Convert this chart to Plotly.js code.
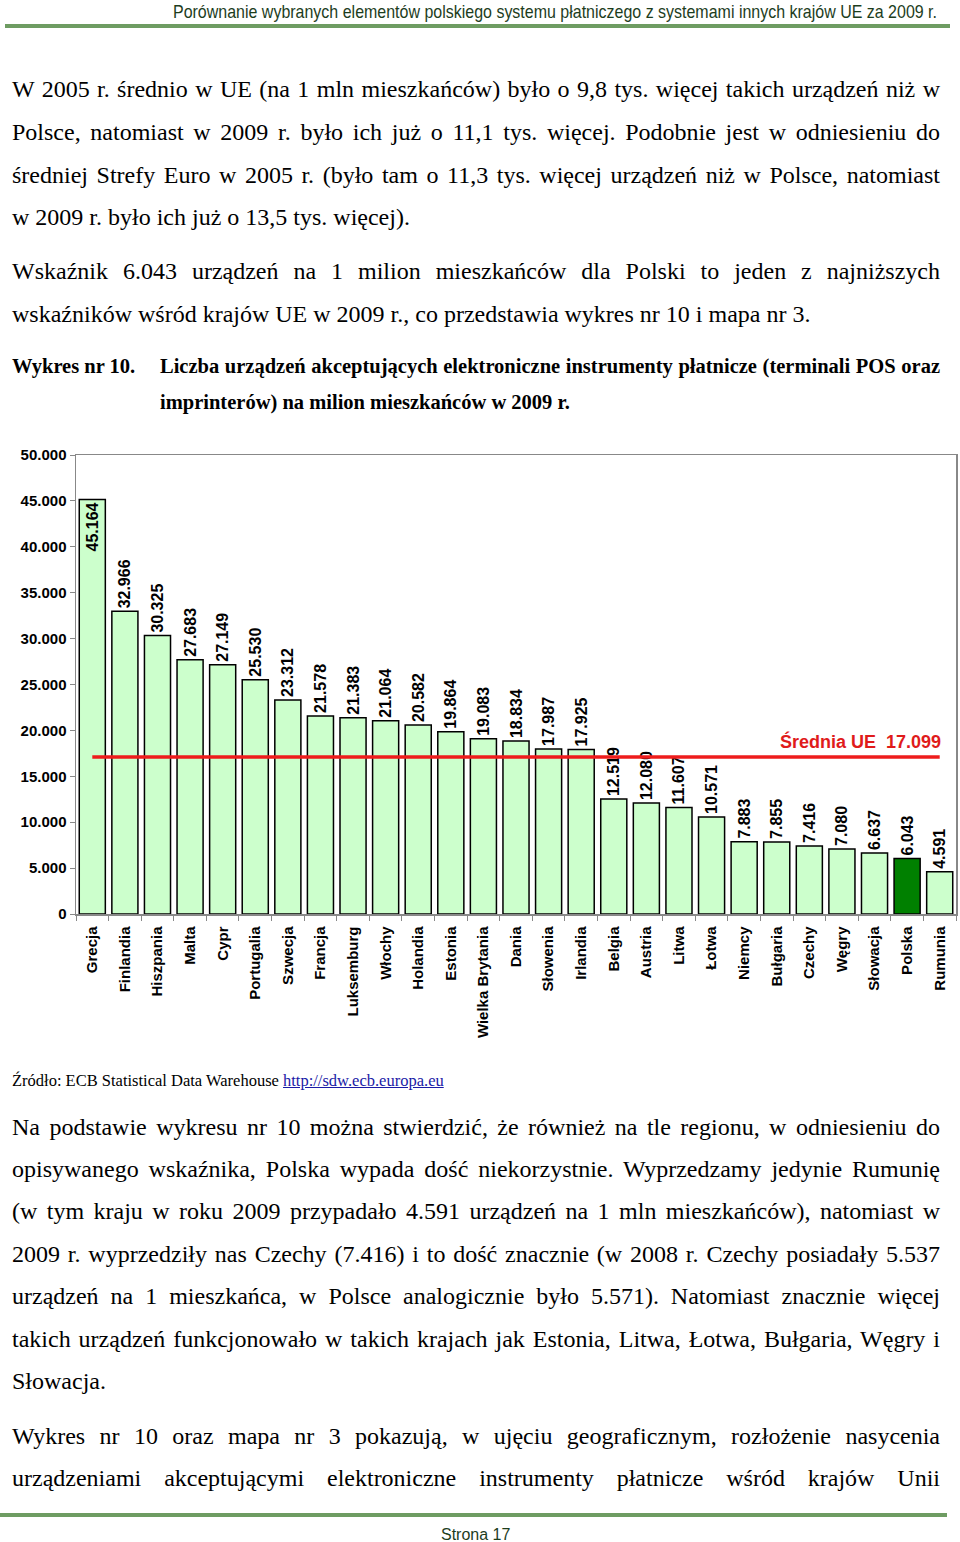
<!DOCTYPE html>
<html>
<head>
<meta charset="utf-8">
<script src="https://cdn.plot.ly/plotly-3.0.1.min.js"></script>
<style>
  html, body { margin:0; padding:0; background:#fff; }
  body { width:960px; height:1542px; position:relative; overflow:hidden; }
  .ln { position:absolute; font-family:"Liberation Serif","Times New Roman",serif; font-size:24px; color:#000; height:42px; line-height:42px; white-space:normal; }
  .j { text-align:justify; text-align-last:justify; }
  .cap { font-weight:bold; font-size:20.5px; }
  .src { font-size:16.5px; }
  .src a { color:#1a1aa6; text-decoration:underline; }
  #hdr { position:absolute; top:0px; left:0; font-family:"Liberation Sans Narrow","Liberation Sans",Arial,sans-serif; font-size:19px; color:#1d3d1d; white-space:nowrap; transform-origin:0 0; line-height:24px; }
  .rule { position:absolute; height:4px; background:#6e9c62; }
  #ftr { position:absolute; top:1525px; left:441px; font-family:"Liberation Sans",Arial,sans-serif; font-size:16px; color:#1d3d1d; line-height:20px; }
  #chart { position:absolute; left:0; top:440px; width:960px; height:620px; }
</style>
</head>
<body>
<div id="hdr">Porównanie wybranych elementów polskiego systemu płatniczego z systemami innych krajów UE za 2009 r.</div>
<div class="rule" style="top:24px; left:5px; width:945px;"></div>

<div id="text"></div>
<div id="chart"></div>

<div class="rule" style="top:1513px; left:0px; width:947px;"></div>
<div id="ftr">Strona 17</div>

<script>
// ---- chart data ----
var countries = ['Grecja','Finlandia','Hiszpania','Malta','Cypr','Portugalia','Szwecja','Francja','Luksemburg','Włochy','Holandia','Estonia','Wielka Brytania','Dania','Słowenia','Irlandia','Belgia','Austria','Litwa','Łotwa','Niemcy','Bułgaria','Czechy','Węgry','Słowacja','Polska','Rumunia'];
var devicesPerMillion = [45164, 32966, 30325, 27683, 27149, 25530, 23312, 21578, 21383, 21064, 20582, 19864, 19083, 18834, 17987, 17925, 12519, 12080, 11607, 10571, 7883, 7855, 7416, 7080, 6637, 6043, 4591];
var euAverage = 17099;
var highlightCountry = 'Polska';
var yTicks = [0, 5000, 10000, 15000, 20000, 25000, 30000, 35000, 40000, 45000, 50000];

// ---- page text lines ----
var lines = [
  {y:89,  x:12, w:928, j:1, t:'W 2005 r. średnio w UE (na 1 mln mieszkańców) było o 9,8 tys. więcej takich urządzeń niż w'},
  {y:132, x:12, w:928, j:1, t:'Polsce, natomiast w 2009 r. było ich już o 11,1 tys. więcej. Podobnie jest w odniesieniu do'},
  {y:175, x:12, w:928, j:1, t:'średniej Strefy Euro w 2005 r. (było tam o 11,3 tys. więcej urządzeń niż w Polsce, natomiast'},
  {y:217, x:12, w:928, j:0, t:'w 2009 r. było ich już o 13,5 tys. więcej).'},
  {y:271, x:12, w:928, j:1, t:'Wskaźnik 6.043 urządzeń na 1 milion mieszkańców dla Polski to jeden z najniższych'},
  {y:314, x:12, w:928, j:0, t:'wskaźników wśród krajów UE w 2009 r., co przedstawia wykres nr 10 i mapa nr 3.'},
  {y:366, x:12, w:140, j:0, c:'cap', t:'Wykres nr 10.'},
  {y:366, x:160, w:780, j:1, c:'cap', t:'Liczba urządzeń akceptujących elektroniczne instrumenty płatnicze (terminali POS oraz'},
  {y:402, x:160, w:780, j:0, c:'cap', t:'imprinterów) na milion mieszkańców w 2009 r.'},
  {y:1081, x:12, w:928, j:0, c:'src', h:'Źródło: ECB Statistical Data Warehouse <a>http://sdw.ecb.europa.eu</a>'},
  {y:1127, x:12, w:928, j:1, t:'Na podstawie wykresu nr 10 można stwierdzić, że również na tle regionu, w odniesieniu do'},
  {y:1169, x:12, w:928, j:1, t:'opisywanego wskaźnika, Polska wypada dość niekorzystnie. Wyprzedzamy jedynie Rumunię'},
  {y:1211, x:12, w:928, j:1, t:'(w tym kraju w roku 2009 przypadało 4.591 urządzeń na 1 mln mieszkańców), natomiast w'},
  {y:1254, x:12, w:928, j:1, t:'2009 r. wyprzedziły nas Czechy (7.416) i to dość znacznie (w 2008 r. Czechy posiadały 5.537'},
  {y:1296, x:12, w:928, j:1, t:'urządzeń na 1 mieszkańca, w Polsce analogicznie było 5.571). Natomiast znacznie więcej'},
  {y:1339, x:12, w:928, j:1, t:'takich urządzeń funkcjonowało w takich krajach jak Estonia, Litwa, Łotwa, Bułgaria, Węgry i'},
  {y:1381, x:12, w:928, j:0, t:'Słowacja.'},
  {y:1436, x:12, w:928, j:1, t:'Wykres nr 10 oraz mapa nr 3 pokazują, w ujęciu geograficznym, rozłożenie nasycenia'},
  {y:1478, x:12, w:928, j:1, t:'urządzeniami akceptującymi elektroniczne instrumenty płatnicze wśród krajów Unii'}
];
var holder = document.getElementById('text');
lines.forEach(function(L){
  var d = document.createElement('div');
  d.className = 'ln' + (L.j ? ' j' : '') + (L.c ? ' ' + L.c : '');
  d.style.left = L.x + 'px';
  d.style.top = (L.y - 21) + 'px';
  d.style.width = L.w + 'px';
  if (L.h) d.innerHTML = L.h; else d.textContent = L.t;
  holder.appendChild(d);
});

// header fit: right edge at 937, left at 173
var hdr = document.getElementById('hdr');
var hw = hdr.getBoundingClientRect().width;
var sc = (937 - 173) / hw;
hdr.style.left = '173px';
hdr.style.transform = 'scaleX(' + sc + ')';

// ---- chart ----
var barColors = countries.map(function(c){ return c === highlightCountry ? '#008000' : '#ccffcc'; });
var textPos = devicesPerMillion.map(function(v, i){ return i === 0 ? 'inside' : 'outside'; });
var lblFont = { family: 'Liberation Sans, Arial, sans-serif', size: 16, color: '#000', weight: 'bold' };

var barTrace = {
  type: 'bar',
  x: countries,
  y: devicesPerMillion,
  width: 0.8,
  marker: { color: barColors, line: { color: '#000', width: 1.5 } },
  text: devicesPerMillion,
  texttemplate: '%{y:,.0f}',
  textposition: textPos,
  insidetextanchor: 'end',
  textangle: -90,
  textfont: lblFont,
  insidetextfont: lblFont,
  outsidetextfont: lblFont,
  constraintext: 'none',
  cliponaxis: false,
  hoverinfo: 'none'
};

var avgTrace = {
  type: 'scatter',
  mode: 'lines',
  x: [countries[0], countries[countries.length - 1]],
  y: [euAverage, euAverage],
  line: { color: '#ee1c1c', width: 3.5 },
  hoverinfo: 'none'
};

var layout = {
  width: 960,
  height: 620,
  margin: { l: 76, r: 4, t: 15, b: 146 },
  paper_bgcolor: 'rgba(0,0,0,0)',
  plot_bgcolor: '#fff',
  showlegend: false,
  separators: ',.',
  xaxis: {
    type: 'category',
    tickangle: -90,
    tickfont: { family: 'Liberation Sans, Arial, sans-serif', size: 15, color: '#000', weight: 'bold' },
    ticks: 'outside',
    tickson: 'boundaries',
    ticklen: 5,
    tickcolor: '#888',
    ticklabelstandoff: 5,
    showline: true,
    linecolor: '#888',
    linewidth: 1.5,
    mirror: true,
    showgrid: false,
    zeroline: false,
    fixedrange: true
  },
  yaxis: {
    range: [0, 50000],
    tickvals: yTicks,
    tickformat: ',.0f',
    tickfont: { family: 'Liberation Sans, Arial, sans-serif', size: 15, color: '#000', weight: 'bold' },
    ticks: 'outside',
    ticklen: 5,
    tickcolor: '#888',
    showline: true,
    linecolor: '#888',
    linewidth: 1.5,
    mirror: true,
    showgrid: false,
    zeroline: false,
    fixedrange: true
  },
  annotations: [{
    xref: 'paper', yref: 'y',
    x: 0.985, y: euAverage,
    xanchor: 'right', yanchor: 'bottom', yshift: 3,
    showarrow: false,
    text: 'Średnia UE\u00a0\u00a0' + (euAverage / 1000).toFixed(3),
    font: { family: 'Liberation Sans, Arial, sans-serif', size: 18, color: '#e01b1b', weight: 'bold' }
  }]
};

Plotly.newPlot('chart', [barTrace, avgTrace], layout, { displayModeBar: false, staticPlot: true });
</script>
</body>
</html>
